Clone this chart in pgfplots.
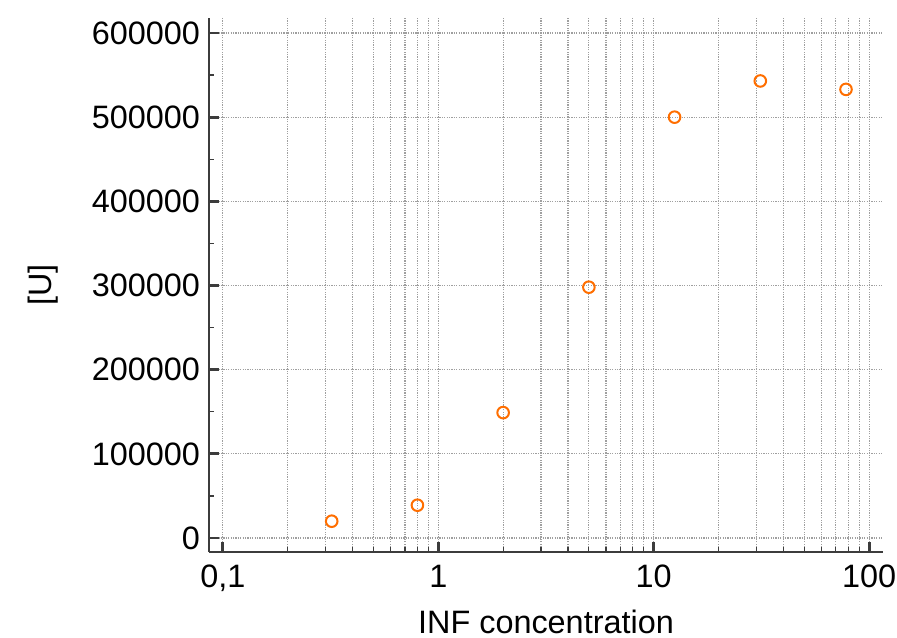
\documentclass[border=0pt]{standalone}
\usepackage{pgfplots}
\pgfplotsset{compat=1.18}
\usepackage{fontspec}
\setmainfont{Liberation Sans}
\definecolor{axc}{RGB}{60,60,60}
\definecolor{mk}{RGB}{255,110,0}
\begin{document}
\begin{tikzpicture}
\path[use as bounding box] (-104.5pt,-42.5pt) rectangle (344pt,276pt);
\begin{axis}[
  at={(0,0)}, anchor=south west,
  scale only axis, width=337pt, height=267pt,
  xmode=log, xmin=0.0862, xmax=116,
  ymin=-16600, ymax=617800,
  axis lines=left, axis line style={-, line width=1.4pt, color=axc},
  xtick={0.1,1,10,100}, xticklabels={{0,1},1,10,100},
  minor xtick={0.2,0.3,0.4,0.5,0.6,0.7,0.8,0.9,2,3,4,5,6,7,8,9,20,30,40,50,60,70,80,90},
  ytick={0,100000,200000,300000,400000,500000,600000},
  yticklabels={0,100000,200000,300000,400000,500000,600000},
  minor ytick={50000,150000,250000,350000,450000,550000},
  scaled y ticks=false,
  tick align=inside,
  major tick length=5pt, minor tick length=2.5pt,
  every major tick/.style={line width=1.4pt, color=axc},
  every minor tick/.style={line width=0.6pt, color=axc},
  xmajorgrids, xminorgrids, ymajorgrids,
  grid style={gray!75, dash pattern=on 0.6pt off 0.6pt, line width=0.6pt},
  minor grid style={gray!75, dash pattern=on 0.6pt off 0.6pt, line width=0.6pt},
  tick label style={font=\fontsize{16.2}{19}\selectfont, color=black},
  xticklabel style={yshift=-3pt},
  yticklabel style={xshift=-1pt},
  xlabel={INF concentration},
  xlabel style={font=\fontsize{16.2}{19}\selectfont, yshift=-2pt},
  ylabel={[U]},
  ylabel style={font=\fontsize{16.2}{19}\selectfont, yshift=10pt},
  clip=false,
]
\addplot[only marks, mark=o, mark size=2.9pt, mark options={line width=1pt, draw=mk}] coordinates {
  (0.32,20000) (0.8,39000) (2,149000) (5,298000) (12.5,500000) (31.25,543000) (78.125,533000)
};
\end{axis}
\end{tikzpicture}
\end{document}
